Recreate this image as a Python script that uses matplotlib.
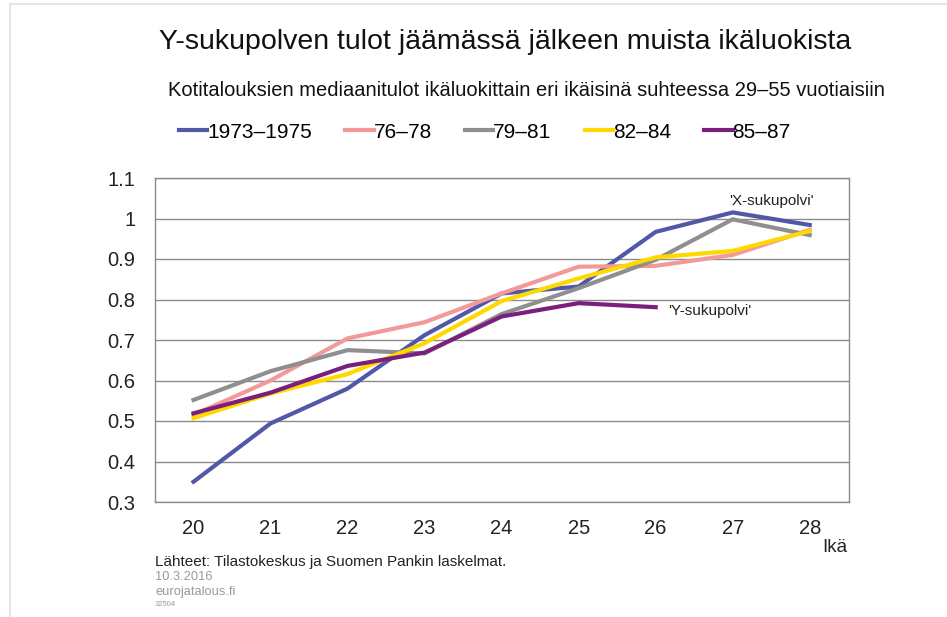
import matplotlib
matplotlib.use("Agg")
import matplotlib.pyplot as plt
from matplotlib.lines import Line2D

plt.rcParams['font.family'] = ['Liberation Sans', 'DejaVu Sans']

# Data
ages = [20, 21, 22, 23, 24, 25, 26, 27, 28]
c1973 = [0.350, 0.494, 0.580, 0.712, 0.815, 0.832, 0.967, 1.015, 0.984]
c1976 = [0.515, 0.600, 0.704, 0.744, 0.815, 0.881, 0.883, 0.910, 0.972]
c1979 = [0.552, 0.623, 0.675, 0.667, 0.764, 0.828, 0.898, 0.998, 0.959]
c1982 = [0.507, 0.568, 0.616, 0.692, 0.796, 0.852, 0.904, 0.920, 0.969]
c1985 = [0.519, 0.570, 0.636, 0.669, 0.758, 0.791, 0.781]

labels = ["1973\u20131975", "76\u201378", "79\u201381", "82\u201384", "85\u201387"]
colors = ["#5158A8", "#F4999A", "#8F8F8F", "#FFD800", "#7A1F7C"]
yticks = [0.3, 0.4, 0.5, 0.6, 0.7, 0.8, 0.9, 1.0, 1.1]

fig = plt.figure(figsize=(9.47, 6.17), dpi=100)
ax = fig.add_axes([155 / 947, 1 - 502 / 617, 694 / 947, 324 / 617])

series = [c1973, c1976, c1979, c1982, c1985]
for vals, lab, col in zip(series, labels, colors):
    ax.plot(ages[:len(vals)], vals, color=col, lw=3, label=lab, solid_joinstyle='miter')

ax.set_xlim(19.5, 28.51)
ax.set_ylim(0.3, 1.1)
ax.set_xticks(ages)
ax.set_yticks(yticks)
ax.set_yticklabels([f"{v:g}" for v in yticks])
ax.tick_params(length=0, labelsize=14.5, colors='#222222', pad=14)
ax.tick_params(axis='x', pad=12)
ax.grid(axis='y', color='#8A8A8A', lw=1)
ax.set_axisbelow(True)
for s in ax.spines.values():
    s.set_color('#8A8A8A')
    s.set_linewidth(1)

ax.text(27.5, 1.044, "'X-sukupolvi'", fontsize=11, ha='center', va='center', color='#222222')
ax.text(26.16, 0.772, "'Y-sukupolvi'", fontsize=11, ha='left', va='center', color='#222222')

fig.text(505 / 947, 1 - 42 / 617, "Y-sukupolven tulot jäämässä jälkeen muista ikäluokista",
         fontsize=20.5, ha='center', va='center', color='#111111')
fig.text(526 / 947, 1 - 90 / 617,
         "Kotitalouksien mediaanitulot ikäluokittain eri ikäisinä suhteessa 29\u201355 vuotiaisiin",
         fontsize=14.5, ha='center', va='center', color='#111111')

handles = [Line2D([0], [0], color=c, lw=3) for c in colors]
fig.legend(handles, labels, loc='center', bbox_to_anchor=(485 / 947, 1 - 132 / 617), ncol=5,
           frameon=False, fontsize=15, handlelength=1.35, handletextpad=0.0,
           columnspacing=1.6, borderpad=0)

fig.text(835 / 947, 1 - 548 / 617, "Ikä", fontsize=13.5, ha='center', va='center', color='#222222')

fig.text(155 / 947, 1 - 562 / 617, "Lähteet: Tilastokeskus ja Suomen Pankin laskelmat.",
         fontsize=11, ha='left', va='center', color='#222222')
fig.text(155 / 947, 1 - 577 / 617, "10.3.2016", fontsize=9.3, ha='left', va='center', color='#9A9A9A')
fig.text(155 / 947, 1 - 592 / 617, "eurojatalous.fi", fontsize=9.3, ha='left', va='center', color='#9A9A9A')
fig.text(155 / 947, 1 - 605 / 617, "32504", fontsize=5.5, ha='left', va='center', color='#9A9A9A')

# thin light frame at top/left of image
fig.add_artist(Line2D([10 / 947, 10 / 947], [0, 1 - 4 / 617], color='#E0E0E0', lw=1.2,
                      transform=fig.transFigure))
fig.add_artist(Line2D([10 / 947, 1], [1 - 4 / 617, 1 - 4 / 617], color='#E0E0E0', lw=1.2,
                      transform=fig.transFigure))

fig.savefig("out.png", dpi=100, facecolor='white')
